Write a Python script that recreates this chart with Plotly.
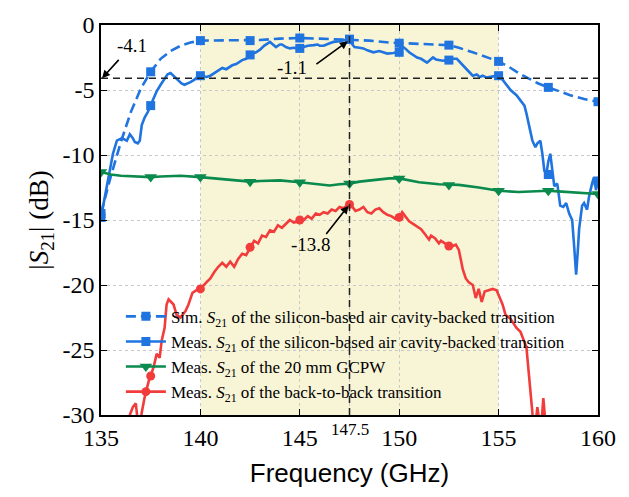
import plotly.graph_objects as go

# ---------------- data ----------------
sim_f = [135, 135.5, 136, 136.5, 137, 137.5, 138, 138.5, 139, 139.5, 140, 141, 142, 142.5, 143, 144,
         145, 146, 147, 147.5, 148.5, 149.5, 150, 151, 152.5, 153, 153.7, 154.3, 155, 155.5, 156,
         156.5, 157, 157.5, 158, 158.6, 159.3, 160]
sim_db = [-14.5, -11.6, -9.0, -6.7, -4.9, -3.6, -2.6, -2.0, -1.6, -1.35, -1.2, -1.2, -1.2, -1.2, -1.15, -1.05,
          -1.0, -1.05, -1.1, -1.1, -1.2, -1.35, -1.4, -1.45, -1.55, -1.75, -2.1, -2.45, -2.8, -3.2, -3.7,
          -4.1, -4.5, -4.8, -5.1, -5.4, -5.7, -5.9]
sim_mk_f = [135, 137.5, 140, 142.5, 145, 147.5, 150, 152.5, 155, 157.5, 160]
sim_mk_db = [-14.5, -3.6, -1.2, -1.2, -1.0, -1.1, -1.4, -1.55, -2.8, -4.8, -5.9]

meas_f = [135, 135.1, 135.2, 135.35, 135.5, 135.6, 135.8, 136.05, 136.3, 136.45, 136.6, 136.7, 136.85,
          136.95, 137.05, 137.2, 137.35, 137.5, 137.65, 137.8, 138.0, 138.2, 138.35, 138.5, 138.7, 138.9,
          139.05, 139.2, 139.35, 139.5, 139.7, 139.85, 140, 140.3, 140.5, 140.8, 141.1, 141.3, 141.6,
          141.8, 142.1, 142.3, 142.5, 142.8, 143.0, 143.2, 143.5, 143.65, 143.8, 144.0, 144.1, 144.3,
          144.5, 144.7, 144.9, 145.2, 145.4, 145.7, 145.9, 146.0, 146.2, 146.5, 146.7, 147.0, 147.2,
          147.45, 147.6, 147.75, 148.0, 148.2, 148.4, 148.7, 149.0, 149.2, 149.4, 149.7, 149.9, 150.1,
          150.3, 150.5, 150.7, 150.9, 151.1, 151.4, 151.55, 151.7, 151.85, 152.0, 152.2, 152.4, 152.7,
          152.9, 153.1, 153.2, 153.45, 153.7, 153.9, 154.05, 154.2, 154.4, 154.6, 154.9, 155.2, 155.4,
          155.6, 155.9, 156.1, 156.3, 156.4, 156.5, 156.6, 156.7, 156.85, 156.95, 157.1, 157.2, 157.3,
          157.4, 157.5, 157.6, 157.7, 157.8, 157.95, 158.1, 158.25, 158.4, 158.55, 158.7, 158.8, 158.9,
          159.0, 159.05, 159.2, 159.3, 159.45, 159.55, 159.7, 159.8, 159.9, 160]
meas_db = [-14.8, -14.0, -13.2, -12.0, -10.8, -9.9, -8.9, -8.7, -8.9, -8.4, -8.7, -9.0, -9.1,
           -8.9, -7.7, -7.1, -6.7, -6.2, -5.7, -5.1, -4.6, -4.1, -3.8, -3.7, -4.0, -4.3,
           -4.5, -4.6, -4.5, -4.4, -4.2, -4.0, -3.9, -4.0, -3.9, -3.6, -3.3, -3.4, -3.1,
           -3.0, -2.7, -2.6, -2.3, -2.1, -1.9, -1.6, -1.3, -1.5, -1.7, -1.5, -1.5, -1.7,
           -1.8, -1.75, -1.8, -1.7, -1.6, -1.55, -1.5, -1.6, -1.6, -1.4, -1.3, -1.25, -1.2,
           -1.1, -1.4, -1.7, -1.75, -1.8, -1.95, -2.1, -2.0, -2.1, -2.2, -2.15, -2.1, -1.6,
           -1.8, -2.1, -2.3, -2.5, -2.6, -2.9, -2.7, -2.5, -2.65, -2.7, -2.75, -2.7, -2.6,
           -2.6, -2.9, -3.1, -3.5, -3.9, -3.8, -4.0, -3.9, -4.05, -4.0, -3.9, -4.2, -4.6,
           -5.0, -5.4, -5.8, -6.2, -6.8, -7.4, -8.2, -8.9, -9.4, -9.1, -8.9, -9.9, -11.2,
           -11.5, -10.5, -9.9, -11.0, -12.4, -12.2, -13.9, -14.0, -13.7, -14.5, -15.0, -17.0, -19.2,
           -17.0, -15.7, -13.9, -13.7, -14.2, -13.2, -12.2, -11.7, -12.7, -12.0]
meas_mk_f = [135, 137.5, 140, 142.5, 145, 147.5, 150, 152.5, 155, 157.5, 160]
meas_mk_db = [-14.8, -6.2, -3.9, -2.3, -1.8, -1.1, -2.1, -2.7, -3.9, -11.5, -12.0]

gcpw_f = [135, 135.5, 136, 137, 137.5, 138, 139, 140, 141, 142, 142.5, 143, 144, 145, 146, 146.5,
          147, 147.5, 148, 149, 149.5, 150, 150.5, 151, 152, 152.5, 153, 154, 155, 156, 157, 157.5,
          158, 159, 160]
gcpw_db = [-11.3, -11.5, -11.6, -11.65, -11.7, -11.65, -11.6, -11.7, -11.85, -12.0, -12.05, -12.0,
           -11.95, -12.1, -12.3, -12.35, -12.25, -12.2, -12.05, -11.85, -11.8, -11.8, -11.95, -12.1,
           -12.25, -12.3, -12.3, -12.5, -12.75, -12.85, -12.8, -12.75, -12.8, -12.9, -13.0]
gcpw_mk_f = [135, 137.5, 140, 142.5, 145, 147.5, 150, 152.5, 155, 157.5, 160]
gcpw_mk_db = [-11.3, -11.7, -11.7, -12.05, -12.1, -12.2, -11.8, -12.3, -12.75, -12.75, -13.0]

b2b_f = [136.3, 136.45, 136.6, 136.75, 136.85, 136.95, 137.05, 137.2, 137.4, 137.5, 137.65, 137.8,
         137.95, 138.05, 138.2, 138.3, 138.4, 138.65, 138.8, 139.0, 139.25, 139.4, 139.6, 139.8, 140.0,
         140.3, 140.5, 140.7, 140.9, 141.1, 141.3, 141.5, 141.7, 141.9, 142.1, 142.3, 142.5, 142.7,
         142.9, 143.1, 143.3, 143.5, 143.7, 143.9, 144.1, 144.3, 144.5, 144.7, 144.9, 145.2, 145.4,
         145.6, 145.8, 146.0, 146.2, 146.4, 146.6, 146.8, 147.0, 147.2, 147.45, 147.65, 147.8, 148.0,
         148.2, 148.4, 148.6, 148.8, 149.0, 149.2, 149.4, 149.6, 149.8, 150.0, 150.15, 150.3, 150.5,
         150.7, 150.9, 151.1, 151.3, 151.5, 151.6, 151.8, 152.0, 152.1, 152.3, 152.5, 152.7, 152.85,
         153.0, 153.1, 153.2, 153.35, 153.5, 153.7, 153.85, 154.0, 154.15, 154.3, 154.5, 154.7, 154.9,
         155.05, 155.2, 155.35, 155.6, 155.9, 156.1, 156.4, 156.55, 156.7, 156.8, 156.95, 157.05,
         157.15, 157.25, 157.35, 157.5]
b2b_db = [-32, -30.0, -29.4, -29.1, -30.5, -31, -29.8, -28.6, -27.4, -27.0, -26.3, -25.3,
          -25.6, -24.3, -23.3, -21.5, -21.1, -21.5, -22.3, -22.5, -22.0, -21.5, -20.6, -20.4, -20.3,
          -19.8, -19.5, -19.0, -18.6, -18.3, -18.6, -18.2, -18.6, -18.0, -17.6, -17.7, -17.1, -16.6,
          -16.8, -16.2, -16.3, -15.8, -15.9, -15.4, -15.6, -15.3, -15.0, -15.2, -15.1, -15.0, -14.7,
          -14.9, -14.5, -14.6, -14.4, -14.5, -14.2, -14.3, -14.0, -14.1, -13.8, -14.0, -14.3, -14.2,
          -14.0, -14.4, -14.5, -14.2, -14.1, -14.4, -14.6, -14.7, -14.9, -14.8, -14.4, -14.7, -15.1,
          -15.3, -15.5, -15.7, -16.1, -16.5, -16.2, -16.4, -16.8, -16.6, -16.8, -17.0, -17.0, -16.9,
          -17.3, -18.0, -18.8, -19.5, -19.8, -20.0, -21.0, -20.3, -21.3, -20.5, -20.4, -20.3, -20.4,
          -21.0, -21.5, -22.3, -22.6, -23.3, -23.6, -24.8, -27.1, -29.9, -31.5, -29.4, -30.5,
          -30.8, -28.7, -30.5, -32]
b2b_mk_f = [137.5, 140, 142.5, 145, 147.5, 150, 152.5]
b2b_mk_db = [-27.0, -20.3, -17.1, -15.0, -13.8, -14.8, -17.0]

x_ticks = [135, 140, 145, 150, 155, 160]
y_ticks = [0, -5, -10, -15, -20, -25, -30]
marked_freq = 147.5
ref_level = -4.1
band = [140, 155]

names = ["Sim. <i>S</i><sub>21</sub> of the silicon-based air cavity-backed transition",
         "Meas. <i>S</i><sub>21</sub> of the silicon-based air cavity-backed transition",
         "Meas. <i>S</i><sub>21</sub> of the 20 mm GCPW",
         "Meas. <i>S</i><sub>21</sub> of the back-to-back transition"]

BLUE = "#1f74e0"
GREEN = "#0a8a4c"
RED = "#f23c3c"
SERIF = "Liberation Serif, Times New Roman, DejaVu Serif, serif"

fig = go.Figure()

series = [
    (sim_f, sim_db, sim_mk_f, sim_mk_db, BLUE, "10px,5px", "square", 9),
    (meas_f, meas_db, meas_mk_f, meas_mk_db, BLUE, "solid", "square", 9),
    (gcpw_f, gcpw_db, gcpw_mk_f, gcpw_mk_db, GREEN, "solid", "triangle-down", 11),
    (b2b_f, b2b_db, b2b_mk_f, b2b_mk_db, RED, "solid", "circle", 9),
]
for i, (f, d, mf, md, c, dash, sym, ms) in enumerate(series):
    fig.add_trace(go.Scatter(x=f, y=d, mode="lines", line=dict(color=c, width=2.6, dash=dash),
                             showlegend=False, legendgroup=str(i)))
    fig.add_trace(go.Scatter(x=mf, y=md, mode="markers",
                             marker=dict(color=c, symbol=sym, size=ms), showlegend=False,
                             legendgroup=str(i)))
for i, (f, d, mf, md, c, dash, sym, ms) in enumerate(series):
    fig.add_trace(go.Scatter(x=[None], y=[None], mode="lines+markers", name=names[i],
                             line=dict(color=c, width=2.6, dash=dash),
                             marker=dict(color=c, symbol=sym, size=ms), legendgroup=str(i)))

fig.add_shape(type="rect", xref="x", yref="paper", x0=band[0], x1=band[1], y0=0, y1=1,
              fillcolor="rgb(248,245,215)", line=dict(width=0), layer="below")
fig.add_shape(type="line", xref="paper", yref="y", x0=0, x1=1, y0=ref_level, y1=ref_level,
              line=dict(color="#222", width=1.5, dash="7px,5px"))
fig.add_shape(type="line", xref="x", yref="paper", x0=marked_freq, x1=marked_freq, y0=0, y1=1,
              line=dict(color="#222", width=1.5, dash="7px,5px"))

ann_font = dict(family=SERIF, size=19, color="black")
arrows = [
    ((135.05, ref_level), (135.96, -2.57)),
    ((147.42, -1.25), (145.76, -3.1)),
    ((147.45, -13.9), (146.27, -16.2)),
]
for (tx, ty), (sx, sy) in arrows:
    fig.add_annotation(x=tx, y=ty, ax=sx, ay=sy, axref="x", ayref="y", text="",
                       showarrow=True, arrowhead=2, arrowsize=1, arrowwidth=1.6, arrowcolor="black")
labels = [("-4.1", 136.56, -1.55), ("-1.1", 144.6, -3.25), ("-13.8", 145.56, -16.9)]
for t, x, y in labels:
    fig.add_annotation(x=x, y=y, text=t, showarrow=False, font=ann_font)
fig.add_annotation(x=marked_freq, y=0, yref="paper", yanchor="top", yshift=-3, text="147.5",
                   showarrow=False, font=dict(family=SERIF, size=17, color="black"))

axis_common = dict(showline=True, linecolor="black", linewidth=1.5, mirror="ticks",
                   ticks="inside", ticklen=6, tickwidth=1.3, tickcolor="black",
                   showgrid=True, gridcolor="#c8c8c8", griddash="dot", gridwidth=1,
                   zeroline=False, tickfont=dict(family=SERIF, size=24, color="black"))

fig.update_xaxes(range=[135, 160], tickvals=x_ticks + [marked_freq],
                 ticktext=[str(v) for v in x_ticks] + [""],
                 title=dict(text="Frequency (GHz)", font=dict(family="Liberation Sans, Arial, sans-serif",
                                                              size=26, color="black"), standoff=14),
                 **axis_common)
fig.update_yaxes(range=[-30, 0], tickvals=y_ticks, ticktext=[str(v) for v in y_ticks],
                 title=dict(text="|<i>S</i><sub>21</sub>| (dB)",
                            font=dict(family=SERIF, size=27, color="black"), standoff=6),
                 **axis_common)

fig.update_layout(width=629, height=497, margin=dict(l=101, r=31, t=19, b=82),
                  plot_bgcolor="white", paper_bgcolor="white",
                  font=dict(family=SERIF, color="black"),
                  legend=dict(x=0.04, y=0.298, xanchor="left", yanchor="top",
                              bgcolor="rgba(0,0,0,0)", font=dict(family=SERIF, size=17, color="black"),
                              tracegroupgap=0, itemwidth=40),
                  showlegend=True)

fig.write_html("out.html")
